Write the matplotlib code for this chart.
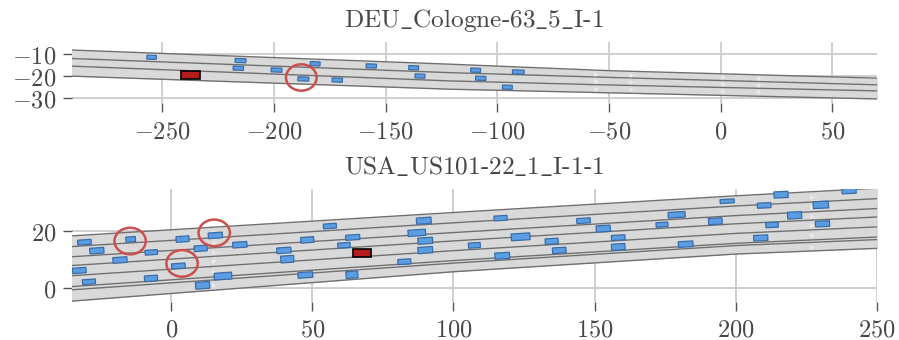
import numpy as np
import matplotlib
matplotlib.use("Agg")
import matplotlib.pyplot as plt
from matplotlib.patches import Rectangle, Ellipse
from matplotlib.ticker import FuncFormatter
import matplotlib.transforms as mtransforms

plt.rcParams['mathtext.fontset'] = 'cm'

# ---------------- data: top scenario ----------------
top_title = r"DEU$\_$Cologne-63$\_$5$\_$I-1"
top_xticks = [-250, -200, -150, -100, -50, 0, 50]
top_yticks = [-30, -20, -10]
top_road_x = [-292, -121, -50, 72]
top_bounds = [
    [-8.3, -14.7, -17.6, -21.0],
    [-12.1, -18.5, -20.6, -24.0],
    [-15.5, -22.2, -24.0, -26.7],
    [-20.0, -25.9, -27.5, -30.3],
]
top_car_x = [-254.7, -214.9, -215.9, -198.8, -181.5, -186.8, -171.6, -156.4,
             -137.4, -134.6, -109.7, -90.6, -107.4, -95.5]
top_car_y = [-11.6, -13.1, -16.5, -17.3, -14.5, -21.3, -21.8, -15.5,
             -16.3, -20.0, -17.4, -18.2, -21.0, -25.0]
top_car_len = [4.2, 4.8, 4.6, 4.8, 4.4, 4.8, 4.6, 4.6, 4.4, 4.4, 4.4, 5.2, 4.6, 4.4]
top_ego = (-237.2, -19.4)
top_circle = (-187.7, -20.65)
top_arrow_x = [-56, -40, 1, 17]

# ---------------- data: bottom scenario ----------------
bot_title = r"USA$\_$US101-22$\_$1$\_$I-1-1"
bot_xticks = [0, 50, 100, 150, 200, 250]
bot_yticks = [0, 20]
bot_road_x = [-36, 100, 200, 252]
bot_bounds = [
    [18.3, 26.6, 32.5, 35.3],
    [14.5, 22.95, 28.9, 31.6],
    [10.9, 19.5, 25.5, 28.1],
    [7.8, 16.55, 22.6, 25.1],
    [4.2, 13.1, 19.2, 21.6],
    [0.35, 9.6, 15.7, 18.0],
    [-0.8, 8.7, 14.9, 17.1],
    [-4.8, 5.65, 11.9, 14.0],
]
bot_car_x = [-30.8, -26.4, -18.2, -32.6, -29.2, -14.4, -7.1, -7.2, 4.0, 10.4,
             2.5, 11.1, 15.6, 18.3, 24.3, 39.9, 41.1, 48.2, 47.5, 56.2,
             64.3, 61.2, 64.0, 82.6, 89.5, 87.0, 90.0, 90.0, 116.7, 107.4,
             123.8, 117.3, 134.8, 137.5, 146.1, 153.1, 158.4, 158.4, 173.9, 179.1,
             182.3, 192.8, 197.0, 210.1, 216.1, 220.9, 212.9, 208.9, 230.2, 230.8,
             240.2]
bot_car_y = [16.1, 13.1, 9.8, 6.1, 2.1, 17.1, 12.5, 3.3, 17.2, 13.9,
             7.7, 0.85, 18.5, 4.1, 15.2, 13.2, 10.1, 16.9, 4.5, 21.8,
             17.8, 15.0, 4.6, 9.2, 23.7, 19.4, 16.6, 13.3, 24.6, 15.0,
             18.0, 11.3, 16.4, 13.2, 23.7, 20.9, 17.7, 14.4, 22.3, 25.8,
             15.4, 23.5, 30.6, 29.1, 32.9, 25.6, 22.2, 17.6, 29.3, 22.6,
             34.2]
bot_car_len = [4.8, 5.0, 5.0, 4.8, 4.6, 3.4, 4.4, 4.6, 4.6, 4.6,
               4.8, 5.0, 5.0, 6.2, 5.0, 5.0, 4.6, 4.6, 5.2, 4.6,
               5.0, 4.4, 4.2, 4.6, 5.2, 6.2, 5.2, 5.2, 4.6, 4.2,
               6.6, 5.2, 4.6, 4.8, 4.8, 5.0, 4.8, 4.8, 4.2, 6.0,
               5.2, 4.8, 5.0, 4.8, 5.0, 5.0, 4.4, 5.0, 5.4, 5.0,
               5.0]
bot_car_wid = [1.7, 2.0, 2.0, 1.9, 1.7, 1.8, 1.7, 2.0, 2.0, 2.0,
               1.8, 2.4, 2.0, 2.4, 2.0, 2.0, 2.4, 2.0, 2.0, 1.7,
               1.8, 1.8, 2.4, 1.8, 2.2, 2.2, 2.2, 2.2, 1.7, 1.8,
               2.4, 2.2, 2.0, 2.0, 1.8, 2.2, 1.8, 2.2, 1.6, 2.0,
               2.0, 2.2, 1.4, 1.8, 2.2, 2.4, 1.8, 2.0, 2.4, 2.0,
               1.8]
bot_ego = (67.5, 12.2)
bot_circles = [(-14.6, 16.5), (15.2, 19.4), (3.8, 8.6)]
bot_arrow_x = [15, 227]

# ---------------- style ----------------
LANE = '#d9d9d9'
LINE = '#707070'
CAR_FC = '#5b9de3'
CAR_EC = '#3a6ca8'
EGO_FC = '#b71c1c'
CIRC = '#c9504f'
GRID = '#cccccc'
TXT = '#464646'

fig = plt.figure(figsize=(8.99, 3.40), dpi=100)
ax_top = fig.add_axes([0.0804, 0.6962, 0.8948, 0.1794])
ax_bot = fig.add_axes([0.0804, 0.1126, 0.8948, 0.3306])


def slope_at(rx, rb, x):
    top = np.array(rb[0]); bot = np.array(rb[-1])
    mid = (top + bot) / 2
    i = np.searchsorted(rx, x) - 1
    i = min(max(i, 0), len(rx) - 2)
    return np.degrees(np.arctan2(mid[i + 1] - mid[i], rx[i + 1] - rx[i]))


def add_car(ax, x, y, L, W, ang, fc, ec, lw=0.9, z=5):
    r = Rectangle((x - L / 2, y - W / 2), L, W, facecolor=fc, edgecolor=ec,
                  linewidth=lw, zorder=z)
    t = mtransforms.Affine2D().rotate_deg_around(x, y, ang) + ax.transData
    r.set_transform(t)
    ax.add_patch(r)


def draw_road(ax, rx, rb, arrow_x):
    for k in range(len(rb) - 1):
        ax.fill_between(rx, rb[k], rb[k + 1], color=LANE, linewidth=0, zorder=1)
    for k, b in enumerate(rb):
        ax.plot(rx, b, color=LINE, lw=1.0, zorder=2, solid_capstyle='butt')
    for ax_x in arrow_x:
        for k in range(len(rb) - 1):
            y1 = np.interp(ax_x, rx, rb[k]); y2 = np.interp(ax_x, rx, rb[k + 1])
            if abs(y1 - y2) < 2:
                continue
            ax.plot([ax_x], [(y1 + y2) / 2], marker='>', color='white', ms=3.5,
                    alpha=0.45, mew=0, zorder=3)
        ya = np.interp(ax_x, rx, rb[0]); yb = np.interp(ax_x, rx, rb[-1])
        ax.plot([ax_x, ax_x], [ya, yb], color='white', lw=0.5, alpha=0.25,
                ls=(0, (2, 2)), zorder=3)


def style_axes(ax, xl, yl, xt, yt, title):
    ax.set_xlim(*xl)
    ax.set_ylim(*yl)
    ax.set_xticks(xt)
    ax.set_yticks(yt)
    fmt = FuncFormatter(lambda v, p: r"$%d$" % int(round(v)))
    ax.xaxis.set_major_formatter(fmt)
    ax.yaxis.set_major_formatter(fmt)
    ax.grid(True, color=GRID, lw=1.3, zorder=0)
    ax.set_axisbelow(True)
    for s in ax.spines.values():
        s.set_visible(False)
    ax.tick_params(axis='both', length=6.5, width=1.0, color='#555555',
                   labelsize=17.5, labelcolor=TXT, pad=5)
    ax.set_title(title, fontsize=18.2, color=TXT, pad=11, family='cmr10')


# top
draw_road(ax_top, top_road_x, top_bounds, top_arrow_x)
for x, y, L in zip(top_car_x, top_car_y, top_car_len):
    add_car(ax_top, x, y, L, 1.8, slope_at(top_road_x, top_bounds, x), CAR_FC, CAR_EC)
add_car(ax_top, top_ego[0], top_ego[1], 8.6, 3.6, 0, EGO_FC, 'black', lw=1.2, z=6)
ax_top.add_patch(Ellipse(top_circle, 13.7, 11.8, fill=False, edgecolor=CIRC, lw=1.8, zorder=7))
style_axes(ax_top, (-290.2, 69.8), (-32.2, -4.9), top_xticks, top_yticks, top_title)

# bottom
draw_road(ax_bot, bot_road_x, bot_bounds, bot_arrow_x)
for x, y, L, W in zip(bot_car_x, bot_car_y, bot_car_len, bot_car_wid):
    add_car(ax_bot, x, y, L, W, slope_at(bot_road_x, bot_bounds, x), CAR_FC, CAR_EC)
add_car(ax_bot, bot_ego[0], bot_ego[1], 6.4, 2.7, 0, EGO_FC, 'black', lw=1.2, z=6)
for c in bot_circles:
    ax_bot.add_patch(Ellipse(c, 11.1, 9.4, fill=False, edgecolor=CIRC, lw=1.8, zorder=7))
style_axes(ax_bot, (-35.1, 250.0), (-4.95, 34.8), bot_xticks, bot_yticks, bot_title)

fig.savefig("out.png", dpi=100)
